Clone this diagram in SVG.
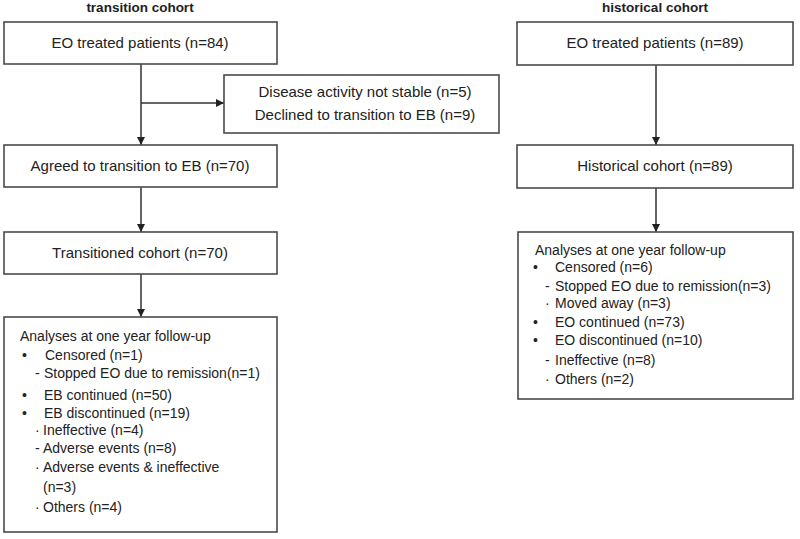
<svg xmlns="http://www.w3.org/2000/svg" width="800" height="539" viewBox="0 0 800 539">
<defs>
<marker id="ah" viewBox="0 0 10 10" refX="10" refY="5" markerWidth="8" markerHeight="8" markerUnits="userSpaceOnUse" orient="auto">
<path d="M0,0 L10,5 L0,10 Z" fill="#222"/>
</marker>
<style>
.box{fill:#fff;stroke:#4a4a4a;stroke-width:1.6}
.t{font-family:"Liberation Sans",Arial,sans-serif;font-size:14px;fill:#222}
.c{text-anchor:middle;font-size:15px}
.h{font-family:"Liberation Sans",Arial,sans-serif;font-size:13.5px;font-weight:bold;fill:#222;text-anchor:middle}
.ln{fill:none;stroke:#333;stroke-width:1.5}
</style>
</defs>
<rect width="800" height="539" fill="#fff"/>
<text class="h" x="140" y="12">transition cohort</text>
<text class="h" x="655" y="12">historical cohort</text>

<g id="connectors">
<line class="ln" x1="141" y1="64" x2="141" y2="145" marker-end="url(#ah)"/>
<line class="ln" x1="141" y1="103" x2="224" y2="103" marker-end="url(#ah)"/>
<line class="ln" x1="141" y1="187" x2="141" y2="232" marker-end="url(#ah)"/>
<line class="ln" x1="141" y1="274" x2="141" y2="317" marker-end="url(#ah)"/>
<line class="ln" x1="656" y1="65" x2="656" y2="145" marker-end="url(#ah)"/>
<line class="ln" x1="656" y1="188" x2="656" y2="232" marker-end="url(#ah)"/>
</g>

<g id="n1">
<rect class="box" x="4" y="22" width="273" height="42"/>
<text class="t c" x="140" y="48">EO treated patients (n=84)</text>
</g>
<g id="n_excl">
<rect class="box" x="224" y="75" width="275" height="58"/>
<text class="t c" x="365" y="97">Disease activity not stable (n=5)</text>
<text class="t c" x="365" y="120">Declined to transition to EB (n=9)</text>
</g>
<g id="n2">
<rect class="box" x="4" y="145" width="273" height="42"/>
<text class="t c" x="140" y="171">Agreed to transition to EB (n=70)</text>
</g>
<g id="n3">
<rect class="box" x="4" y="232" width="273" height="42"/>
<text class="t c" x="140" y="258">Transitioned cohort (n=70)</text>
</g>
<g id="n4">
<rect class="box" x="4" y="317" width="273" height="215"/>
<text class="t" x="20" y="341">Analyses at one year follow-up</text>
<text class="t" x="22" y="360">•</text><text class="t" x="45" y="360">Censored (n=1)</text>
<text class="t" x="35" y="378">-</text><text class="t" x="44" y="378">Stopped EO due to remission(n=1)</text>
<text class="t" x="22" y="400">•</text><text class="t" x="44" y="400">EB continued (n=50)</text>
<text class="t" x="22" y="418">•</text><text class="t" x="44" y="418">EB discontinued  (n=19)</text>
<text class="t" x="35" y="435">·</text><text class="t" x="43" y="435">Ineffective (n=4)</text>
<text class="t" x="35" y="453">-</text><text class="t" x="43" y="453">Adverse events (n=8)</text>
<text class="t" x="35" y="472">·</text><text class="t" x="43" y="472">Adverse events &amp; ineffective</text>
<text class="t" x="43" y="492">(n=3)</text>
<text class="t" x="35" y="512">·</text><text class="t" x="43" y="512">Others (n=4)</text>
</g>

<g id="r1">
<rect class="box" x="517" y="22" width="276" height="43"/>
<text class="t c" x="655" y="48">EO treated patients (n=89)</text>
</g>
<g id="r2">
<rect class="box" x="517" y="145" width="276" height="43"/>
<text class="t c" x="655" y="171">Historical cohort (n=89)</text>
</g>
<g id="r3">
<rect class="box" x="518" y="232" width="275" height="167"/>
<text class="t" x="535" y="255">Analyses at one year follow-up</text>
<text class="t" x="533" y="272">•</text><text class="t" x="555" y="272">Censored (n=6)</text>
<text class="t" x="545" y="291">-</text><text class="t" x="555" y="291">Stopped EO due to remission(n=3)</text>
<text class="t" x="545" y="308">·</text><text class="t" x="555" y="308">Moved away (n=3)</text>
<text class="t" x="533" y="327">•</text><text class="t" x="555" y="327">EO continued (n=73)</text>
<text class="t" x="533" y="345">•</text><text class="t" x="555" y="345">EO discontinued (n=10)</text>
<text class="t" x="545" y="365">-</text><text class="t" x="555" y="365">Ineffective (n=8)</text>
<text class="t" x="545" y="384">·</text><text class="t" x="555" y="384">Others (n=2)</text>
</g>
</svg>
